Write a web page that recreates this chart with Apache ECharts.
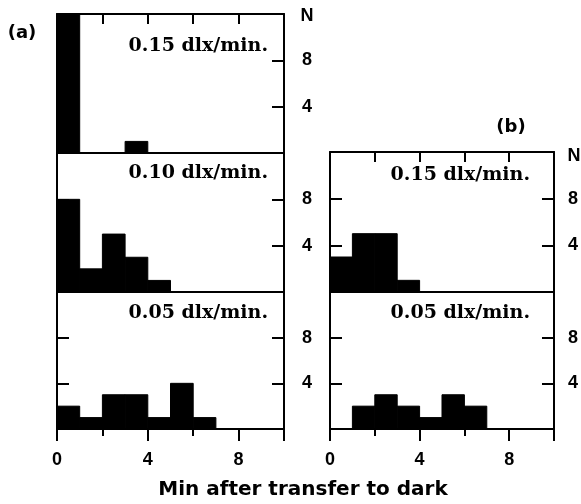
<!DOCTYPE html>
<html><head><meta charset="utf-8">
<script src="https://cdn.jsdelivr.net/npm/echarts@6/dist/echarts.min.js"></script>
<style>html,body{margin:0;padding:0;background:#fff}#c{width:581px;height:504px}</style>
</head><body><div id="c"></div>
<script>
// ---- data ----
const binStarts = [0, 1, 2, 3, 4, 5, 6, 7, 8, 9];
const a015 = [13, 0, 0, 1, 0, 0, 0, 0, 0, 0];
const a010 = [8, 2, 5, 3, 1, 0, 0, 0, 0, 0];
const a005 = [2, 1, 3, 3, 1, 4, 1, 0, 0, 0];
const b015 = [3, 5, 5, 1, 0, 0, 0, 0, 0, 0];
const b005 = [0, 2, 3, 2, 1, 3, 2, 0, 0, 0];
const panelTexts = ['0.15 dlx/min.', '0.10 dlx/min.', '0.05 dlx/min.', '0.15 dlx/min.', '0.05 dlx/min.'];
const xLabelValues = [0, 4, 8];
const yLabelValues = [4, 8];
const xTitle = 'Min after transfer to dark';
const yName = 'N';

const seriesValues = [a015, a010, a005, b015, b005];

// ---- layout ----
const grids = [
  {left: 57, top: 14, width: 227, height: 139},
  {left: 57, top: 153, width: 227, height: 139},
  {left: 57, top: 292, width: 227, height: 137},
  {left: 330, top: 152, width: 226, height: 140},
  {left: 330, top: 292, width: 226, height: 137}
];
const isTop = [true, false, false, true, false];
const isBottom = [false, false, true, false, true];
const rightMargin = [18, 18, 18, 14, 14];

const lineStyle = {color: '#000', width: 2};
const labelFont = {color: '#000', fontFamily: 'Liberation Sans', fontWeight: 'bold', fontSize: 18};

const xAxes = [], yAxes = [], series = [];
grids.forEach((g, i) => {
  const xi = xAxes.length;
  xAxes.push({
    gridIndex: i, type: 'value', min: 0, max: 10, interval: 2, position: 'bottom',
    axisLine: {show: true, onZero: false, lineStyle},
    axisTick: {show: isBottom[i], inside: false, length: 12, lineStyle, customValues: [0, 4, 8, 10]},
    axisLabel: Object.assign({show: isBottom[i], margin: 22, customValues: xLabelValues}, labelFont),
    splitLine: {show: false}
  });
  if (isBottom[i]) {
    xAxes.push({
      gridIndex: i, type: 'value', min: 0, max: 10, interval: 2, position: 'bottom',
      axisLine: {show: false, onZero: false},
      axisTick: {show: true, inside: false, length: 7, lineStyle, customValues: [2, 6]},
      axisLabel: {show: false}, splitLine: {show: false}
    });
  }
  xAxes.push({
    gridIndex: i, type: 'value', min: 0, max: 10, interval: 2, position: 'top',
    axisLine: {show: true, onZero: false, lineStyle},
    axisTick: {show: isTop[i], inside: true, length: 10, lineStyle, customValues: [2, 4, 6, 8]},
    axisLabel: {show: false}, splitLine: {show: false}
  });
  const yi = yAxes.length;
  yAxes.push({
    gridIndex: i, type: 'value', min: 0, max: 12, interval: 4, position: 'left',
    axisLine: {show: true, onZero: false, lineStyle},
    axisTick: {show: true, inside: true, length: 12, lineStyle, customValues: yLabelValues},
    axisLabel: {show: false},
    splitLine: {show: false}
  });
  yAxes.push({
    gridIndex: i, type: 'value', min: 0, max: 12, interval: 4, position: 'right',
    axisLine: {show: true, onZero: false, lineStyle},
    axisTick: {show: true, inside: true, length: 12, lineStyle, customValues: yLabelValues},
    axisLabel: Object.assign({show: true, margin: rightMargin[i], customValues: yLabelValues}, labelFont),
    splitLine: {show: false}
  });
  const vals = seriesValues[i];
  series.push({
    type: 'custom', xAxisIndex: xi, yAxisIndex: yi,
    data: binStarts.map((s, k) => [s, s + 1, vals[k]]).filter(d => d[2] > 0),
    encode: {x: [0, 1], y: 2},
    renderItem: function (params, api) {
      const p0 = api.coord([api.value(0), 0]);
      const p1 = api.coord([api.value(1), api.value(2)]);
      const cs = params.coordSys;
      const r = echarts.graphic.clipRectByRect(
        {x: p0[0], y: p1[1], width: p1[0] - p0[0], height: p0[1] - p1[1]},
        {x: cs.x, y: cs.y, width: cs.width, height: cs.height});
      return r ? {type: 'rect', shape: r, style: {fill: '#000', stroke: '#000', lineWidth: 1}} : null;
    },
    z: 1
  });
});

const annoPos = [[268, 46], [268, 173], [268, 313], [530, 175], [530, 313]];
const graphics = panelTexts.map((t, i) => ({
  type: 'text', x: annoPos[i][0], y: annoPos[i][1],
  style: {text: t, fill: '#000', font: 'bold 19px "DejaVu Serif"', textAlign: 'right', textVerticalAlign: 'middle'}
}));
const panelFont = 'bold 18px "DejaVu Sans"';
const nFont = 'bold 18px "Liberation Sans"';
graphics.push(
  {type: 'text', x: 22, y: 33, style: {text: '(a)', fill: '#000', font: panelFont, textAlign: 'center', textVerticalAlign: 'middle'}},
  {type: 'text', x: 511, y: 127, style: {text: '(b)', fill: '#000', font: panelFont, textAlign: 'center', textVerticalAlign: 'middle'}},
  {type: 'text', x: 307, y: 16, style: {text: yName, fill: '#000', font: nFont, textAlign: 'center', textVerticalAlign: 'middle'}},
  {type: 'text', x: 574, y: 156, style: {text: yName, fill: '#000', font: nFont, textAlign: 'center', textVerticalAlign: 'middle'}},
  {type: 'text', x: 303, y: 490, style: {text: xTitle, fill: '#000', font: 'bold 20px "DejaVu Sans"', textAlign: 'center', textVerticalAlign: 'middle'}}
);

const chart = echarts.init(document.getElementById('c'), null, {renderer: 'canvas'});
chart.setOption({
  animation: false,
  backgroundColor: '#fff',
  grid: grids,
  xAxis: xAxes,
  yAxis: yAxes,
  series: series,
  graphic: graphics
});
</script>
</body></html>
